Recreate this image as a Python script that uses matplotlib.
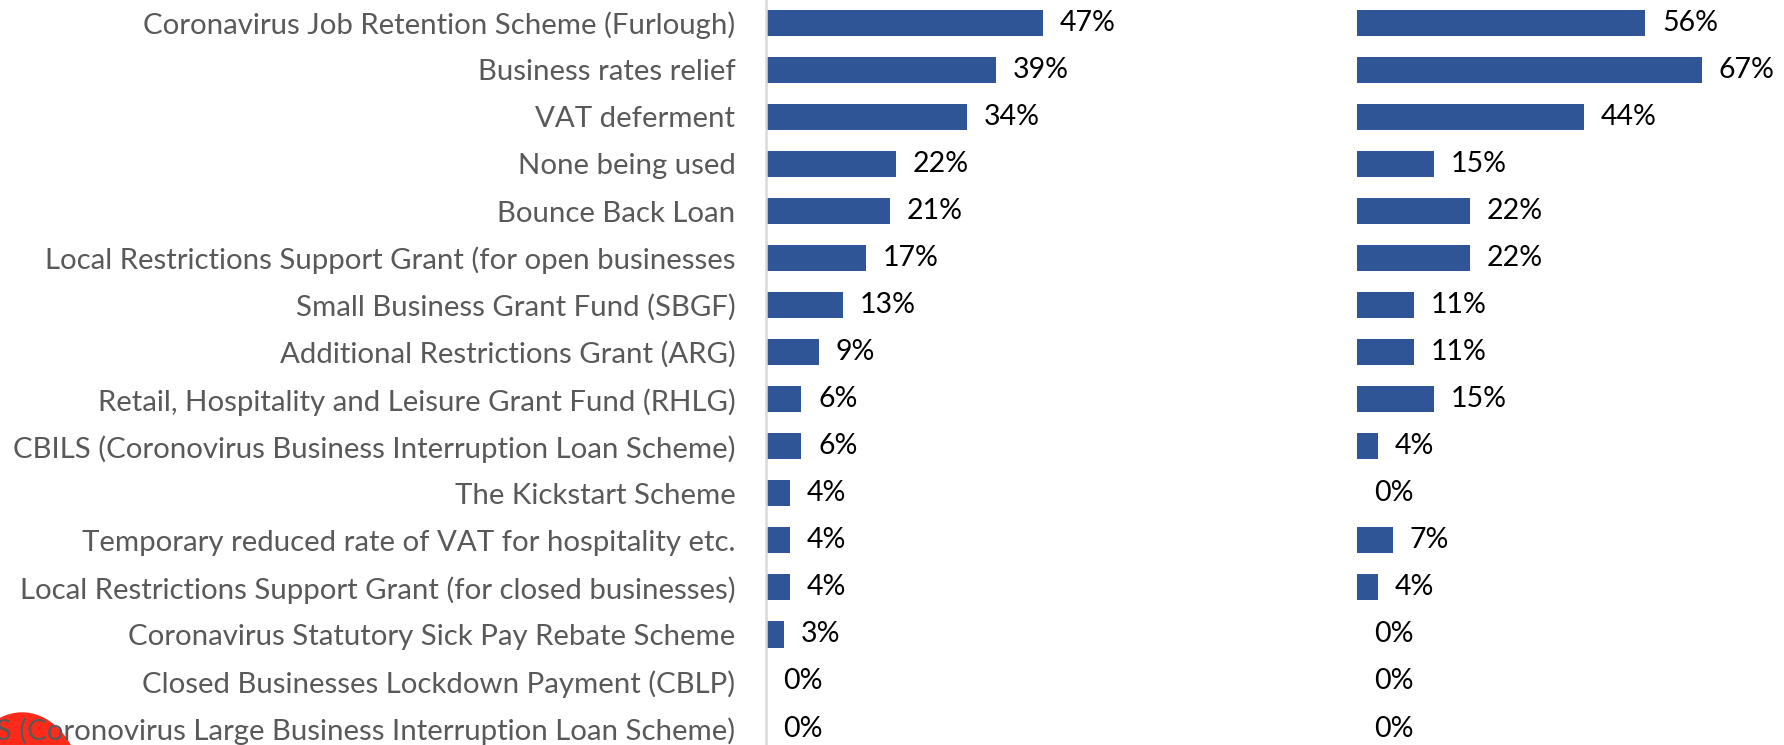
import matplotlib.pyplot as plt
from matplotlib.patches import Ellipse

schemes = [
    "Coronavirus Job Retention Scheme (Furlough)",
    "Business rates relief",
    "VAT deferment",
    "None being used",
    "Bounce Back Loan",
    "Local Restrictions Support Grant (for open businesses",
    "Small Business Grant Fund (SBGF)",
    "Additional Restrictions Grant (ARG)",
    "Retail, Hospitality and Leisure Grant Fund (RHLG)",
    "CBILS (Coronovirus Business Interruption Loan Scheme)",
    "The Kickstart Scheme",
    "Temporary reduced rate of VAT for hospitality etc.",
    "Local Restrictions Support Grant (for closed businesses)",
    "Coronavirus Statutory Sick Pay Rebate Scheme",
    "Closed Businesses Lockdown Payment (CBLP)",
    "CLBILS (Coronovirus Large Business Interruption Loan Scheme)",
]
left_pct = [47, 39, 34, 22, 21, 17, 13, 9, 6, 6, 4, 4, 4, 3, 0, 0]
right_pct = [56, 67, 44, 15, 22, 22, 11, 11, 15, 4, 0, 7, 4, 0, 0, 0]

bar_color = "#2F5597"
plt.rcParams['font.family'] = ['Lato', 'DejaVu Sans']

W, H = 1784, 745
fig = plt.figure(figsize=(W / 100, H / 100), dpi=100)

pos = list(range(len(schemes)))
pitch = 47.05
top_row = -22.8 / pitch
bot_row = (H - 22.8) / pitch


def panel(x0, x1, px_per_pct, vals, show_labels):
    ax = fig.add_axes([x0 / W, 0, (x1 - x0) / W, 1])
    ax.barh(pos, vals, height=0.555, color=bar_color)
    ax.set_xlim(0, (x1 - x0) / px_per_pct)
    ax.set_ylim(bot_row, top_row)
    for sp in ["top", "right", "bottom"]:
        ax.spines[sp].set_visible(False)
    ax.set_xticks([])
    if show_labels:
        ax.spines["left"].set_color("#d9d9d9")
        ax.spines["left"].set_linewidth(1.8)
        ax.set_yticks(pos)
        ax.set_yticklabels(schemes, fontsize=21.2, color="#595959")
        ax.tick_params(axis="y", length=0, pad=22)
    else:
        ax.spines["left"].set_visible(False)
        ax.set_yticks([])
    for p, v in zip(pos, vals):
        ax.annotate(f"{v}%", (v, p), xytext=(12, 0), textcoords="offset points",
                    va="center", ha="left", fontsize=20.5, color="black")
    ax.patch.set_alpha(0)
    return ax


panel(766, 1300, 5.9, left_pct, True)
panel(1357, 1784, 5.15, right_pct, False)

# red decoration cut off at the bottom-left corner, behind the text
fig.patches.append(Ellipse((22 / W, -48 / H), 120 / W, 160 / H, angle=0,
                           transform=fig.transFigure, color="#FF2A1A", zorder=-1))

fig.savefig("out.png", dpi=100)
